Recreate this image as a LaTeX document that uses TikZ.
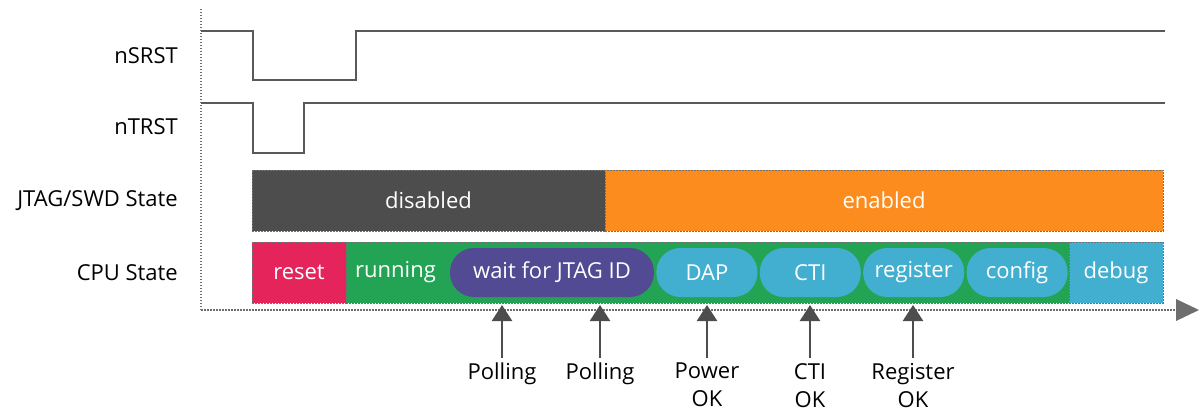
\documentclass[tikz,border=0pt]{standalone}
\usepackage{fontspec}
\setmainfont{Open Sans}
\usepackage{xcolor}
\usetikzlibrary{positioning, arrows.meta}

\definecolor{wavegray}{HTML}{595959}
\definecolor{axisgray}{HTML}{6E6E6E}
\definecolor{boxedge}{HTML}{707070}
\definecolor{offgray}{HTML}{4D4D4D}
\definecolor{onorange}{HTML}{FB8C1D}
\definecolor{resetred}{HTML}{E6245C}
\definecolor{rungreen}{HTML}{23A455}
\definecolor{waitpurple}{HTML}{524A92}
\definecolor{stepblue}{HTML}{43AFD0}

\begin{document}
\begin{tikzpicture}[x=1pt, y=-1pt, font=\fontsize{22}{28}\selectfont,
        signame/.style={anchor=east, inner sep=0pt},
        wave/.style={draw=wavegray, line width=2pt},
        axis/.style={draw=axisgray, line width=2pt, dash pattern=on 1.5pt off 1.5pt},
        statebox/.style={rectangle, draw=boxedge, dash pattern=on 2pt off 1pt, line width=1pt, minimum height=61pt, text=white, inner sep=0pt, outer sep=0pt},
        pill/.style={rectangle, rounded corners=24pt, minimum height=49pt, minimum width=101pt, text=white, inner sep=0pt},
        event/.style={anchor=north, align=center, inner sep=0pt, text=black},
        poll/.style={draw=offgray, line width=2.5pt, -{Triangle[length=16pt, width=20pt]}}]

        \useasboundingbox (0,0) rectangle (1204,413);

        % Signal names
        \node [signame] (nsrst) at (178,56) {nSRST};
        \node [signame] (ntrst) at (178,127) {nTRST};
        \node [signame] (jtag) at (178,201) {JTAG/SWD State};
        \node [signame] (cpu) at (178,273) {CPU State};

        % Axes
        \coordinate (origin) at (201,310);
        \coordinate (top) at (201,9);
        \coordinate (tend) at (1199,310);
        \draw [axis] (origin) -- (top);
        \draw [axis] (origin) -- (1180,310);
        \fill [axisgray] (1176,299) -- (tend) -- (1176,321) -- cycle;

        % Reset waveforms
        \draw [wave] (201,31) -- (253,31) -- (253,80) -- (356,80) -- (356,31) -- (1165,31);
        \draw [wave] (201,103) -- (253,103) -- (253,153) -- (304,153) -- (304,103) -- (1165,103);

        % JTAG/SWD state
        \node [statebox, fill=offgray, minimum width=353pt] (disabled) at (428.5,200.5) {disabled};
        \node [statebox, fill=onorange, minimum width=558pt, right=0pt of disabled] (enabled) {enabled};

        % CPU state
        \node [statebox, fill=resetred, minimum width=94pt] (reset) at (299,272.5) {reset};
        \node [statebox, fill=rungreen, minimum width=723pt, right=0pt of reset] (running) {};
        \node [statebox, fill=stepblue, minimum width=94pt, right=0pt of running] (debug) {debug};
        \node [text=white, right=9pt of running.west, inner sep=0pt] (runtxt) {running};

        % Steps while running
        \node [pill, fill=waitpurple, minimum width=204pt] (wait) at (552,272.5) {wait for JTAG ID};
        \node [pill, fill=stepblue, right=2pt of wait] (dap) {DAP};
        \node [pill, fill=stepblue, right=2pt of dap] (cti) {CTI};
        \node [pill, fill=stepblue, right=2pt of cti] (register) {register};
        \node [pill, fill=stepblue, right=2pt of register] (config) {config};

        % Events
        \node [event] (poll1) at (502,363) {Polling};
        \node [event] (poll2) at (600,363) {Polling};
        \node [event] (power) at (707,363) {Power\\OK};
        \node [event] (ctiok) at (810,363) {CTI\\OK};
        \node [event] (regok) at (913,363) {Register\\OK};

        \foreach \ev/\x in {poll1/502, poll2/600, power/707, ctiok/810, regok/913}
            \draw [poll] ([yshift=5pt]\ev.north) -- (\x,305);

    \end{tikzpicture}
\end{document}
